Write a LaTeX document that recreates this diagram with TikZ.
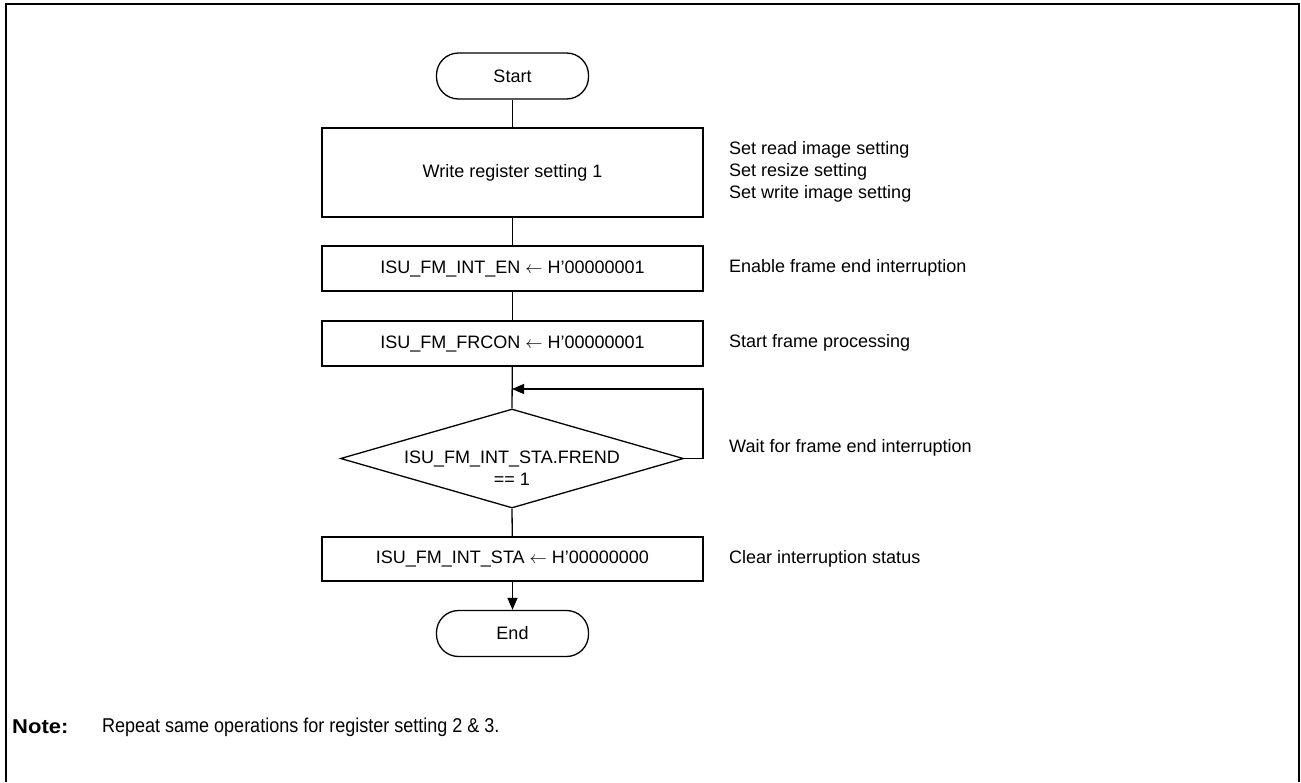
\documentclass[tikz,border=0pt]{standalone}
\usepackage{fontspec}
\setmainfont{Liberation Sans}
\newfontfamily\notenarrow[FakeStretch=0.9]{Liberation Sans}
\newfontfamily\notebold[FakeStretch=1.1]{Liberation Sans Bold}
\usetikzlibrary{shapes.geometric,arrows.meta}
\begin{document}
\begin{tikzpicture}[x=1pt,y=-1pt,
  every node/.style={font=\fontsize{18}{22}\selectfont},
  proc/.style={draw,line width=1.3pt,rectangle,minimum width=381pt,inner sep=0pt},
  term/.style={draw,line width=1.3pt,rectangle,rounded corners=22pt,minimum width=152pt,minimum height=46pt,inner sep=0pt},
  dec/.style={draw,line width=1.3pt,diamond,minimum width=343pt,minimum height=99pt,inner sep=0pt},
  note/.style={anchor=west,inner sep=0pt,align=left},
  conn/.style={line width=1.3pt},
  arr/.style={line width=1.3pt,-{Triangle[length=12pt,width=10pt]}}]
\useasboundingbox (0,0) rectangle (1301,782);
\draw[line width=2.2pt] (6,782) -- (6,4) -- (1299,4) -- (1299,782);

\node[term] (start) at (512.5,76) {Start};
\node[proc,minimum height=89pt] (w1) at (512.5,172.5) {Write register setting 1};
\node[proc,minimum height=45pt] (en) at (512.5,268.5) {ISU\_FM\_INT\_EN $\leftarrow$ H’00000001};
\node[proc,minimum height=45pt] (frc) at (512.5,343.5) {ISU\_FM\_FRCON $\leftarrow$ H’00000001};
\node[dec] (dia) at (512,458.5) {};
\node[align=center,inner sep=0pt] (diat) at (512,468) {ISU\_FM\_INT\_STA.FREND\\== 1};
\node[proc,minimum height=44pt] (clr) at (512.5,559) {ISU\_FM\_INT\_STA $\leftarrow$ H’00000000};
\node[term] (end) at (512.5,633.5) {End};

\coordinate (j) at (512,389);
\coordinate (r1) at (703,458.5);
\coordinate (r2) at (703,389);

\draw[conn] (start) -- (w1);
\draw[conn] (w1) -- (en);
\draw[conn] (en) -- (frc);
\draw[conn] (frc) -- (dia.north);
\draw[arr] (dia.east) -- (r1) -- (r2) -- (j);
\draw[conn] (dia.south) -- (clr);
\draw[arr] (clr) -- (end);

\node[note] (n1) at (729,172) {Set read image setting\\Set resize setting\\Set write image setting};
\node[note] (n2) at (729,268) {Enable frame end interruption};
\node[note] (n3) at (729,343) {Start frame processing};
\node[note] (n4) at (729,448) {Wait for frame end interruption};
\node[note] (n5) at (729,559) {Clear interruption status};

\node[note,font=\notebold\fontsize{20}{24}\selectfont] (nl) at (12,727) {Note:};
\node[note,font=\notenarrow\fontsize{20}{24}\selectfont] (nt) at (102,727) {Repeat same operations for register setting 2 \& 3.};
\end{tikzpicture}
\end{document}
